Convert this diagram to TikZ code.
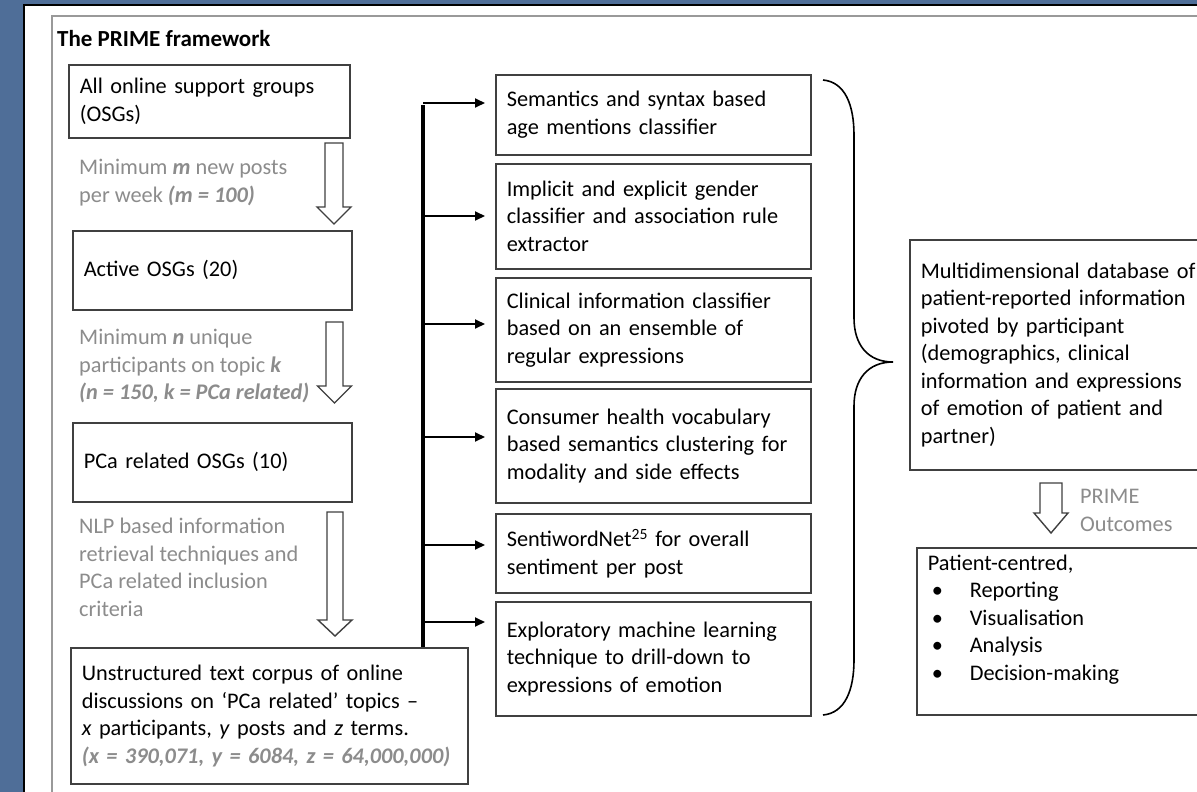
\documentclass[tikz,border=0pt]{standalone}
\usepackage{fontspec}
\setmainfont{Carlito}
\usetikzlibrary{arrows.meta}

\definecolor{slide}{RGB}{79,110,152}
\definecolor{boxline}{RGB}{64,64,64}
\definecolor{note}{RGB}{140,140,140}

% hollow block arrow pointing down: centre x, top, start of head, tip, half shaft
\newcommand{\hollowdown}[5]{\draw[fat] ({#1-#5},#2) -- ({#1+#5},#2) -- ({#1+#5},#3) -- ({#1+17},#3) -- (#1,#4) -- ({#1-17},#3) -- ({#1-#5},#3) -- cycle;}

\begin{document}
\begin{tikzpicture}[x=1pt,y=-1pt,
  every node/.style={font=\fontsize{22.3}{27.5}\selectfont},
  stage/.style={draw=boxline,line width=1.6pt,anchor=north west,align=left,inner xsep=11pt,inner ysep=0pt},
  cond/.style={anchor=north west,align=left,text=note,inner sep=0pt},
  fat/.style={draw=boxline,line width=1.4pt,fill=white},
  feed/.style={line width=2pt,-{Triangle[length=10pt,width=9pt]},shorten >=10pt}]
\useasboundingbox (0,0) rectangle (1197,792);
\clip (0,0) rectangle (1197,792);
\fill[slide] (0,0) rectangle (1197,792);
\draw[line width=1.6pt,fill=white] (24,5) rectangle (1240,840);
\draw[black!40,line width=2pt] (52,16) rectangle (1230,830);

\node[anchor=base west,inner sep=0pt,font=\bfseries\fontsize{23}{27.5}\selectfont] (title) at (57,47) {The PRIME framework};

% left column
\node[stage,text width=259pt,minimum height=73pt] (osg) at (68,64) {All online support groups\\(OSGs)};
\node[cond] (c1) at (79,159) {Minimum \textbf{\textit{m}} new posts\\per week \textbf{\textit{(m = 100)}}};
\hollowdown{334}{143}{207}{224}{9}
\node[stage,text width=257pt,minimum height=79pt] (active) at (72,230) {Active OSGs (20)};
\node[cond] (c2) at (79,329) {Minimum \textbf{\textit{n}} unique\\participants on topic \textbf{\textit{k}}\\\textbf{\textit{(n = 150, k = PCa related)}}};
\hollowdown{334.5}{322}{386}{403}{8.5}
\node[stage,text width=257pt,minimum height=79pt] (pca) at (72,422) {PCa related OSGs (10)};
\node[cond] (c3) at (79,518) {NLP based information\\retrieval techniques and\\PCa related inclusion\\criteria};
\hollowdown{335}{512}{620}{636}{8}
\node[stage,text width=375pt,minimum height=136pt] (corpus) at (70,647) {Unstructured text corpus of online\\discussions on ‘PCa related’ topics --\\\textit{x} participants, \textit{y} posts and \textit{z} terms.\\\textcolor{note}{\textbf{\textit{(x = 390,071, y = 6084, z = 64,000,000)}}}};

% middle column
\node[stage,text width=293pt,minimum height=80pt] (m1) at (495,74) {Semantics and syntax based\\age mentions classifier};
\node[stage,text width=293pt,minimum height=105pt] (m2) at (495,163) {Implicit and explicit gender\\classifier and association rule\\extractor};
\node[stage,text width=293pt,minimum height=104pt] (m3) at (495,277) {Clinical information classifier\\based on an ensemble of\\regular expressions};
\node[stage,text width=293pt,minimum height=114pt] (m4) at (495,388) {Consumer health vocabulary\\based semantics clustering for\\modality and side effects};
\node[stage,text width=293pt,minimum height=79pt] (m5) at (495,513) {SentiwordNet\textsuperscript{25} for overall\\sentiment per post};
\node[stage,text width=293pt,minimum height=114pt] (m6) at (495,601) {Exploratory machine learning\\technique to drill-down to\\expressions of emotion};

\coordinate (b1) at (423,103);
\coordinate (b2) at (423,216);
\coordinate (b3) at (423,324);
\coordinate (b4) at (423,437);
\coordinate (b5) at (423,545);
\coordinate (b6) at (423,622);
\draw[line width=3.2pt] (corpus.north -| b1) -- ([yshift=-1.6pt]b1);
\foreach \i in {1,...,6}
  \draw[feed] (b\i) -- (b\i -| m\i.west);

\draw[line width=1.6pt] (823,80) .. controls (845,82) and (854,105) .. (854,135) -- (854,318) .. controls (854,345) and (868,362) .. (893,362) .. controls (868,362) and (854,379) .. (854,406) -- (854,660) .. controls (854,690) and (845,713) .. (823,715);

% right column
\node[stage,text width=298pt,minimum height=230pt] (db) at (909,239) {Multidimensional database of\\patient-reported information\\pivoted by participant\\(demographics, clinical\\information and expressions\\of emotion of patient and\\partner)};
\hollowdown{1051}{483}{513}{533}{11}
\node[cond] (out) at (1080,489) {PRIME\\Outcomes};
\node[stage,text width=298pt,minimum height=167pt] (uses) at (916,547) {Patient-centred,\\
  \hspace{4pt}\makebox[38pt][l]{\textbullet}Reporting\\
  \hspace{4pt}\makebox[38pt][l]{\textbullet}Visualisation\\
  \hspace{4pt}\makebox[38pt][l]{\textbullet}Analysis\\
  \hspace{4pt}\makebox[38pt][l]{\textbullet}Decision-making\\\mbox{}};
\end{tikzpicture}
\end{document}
